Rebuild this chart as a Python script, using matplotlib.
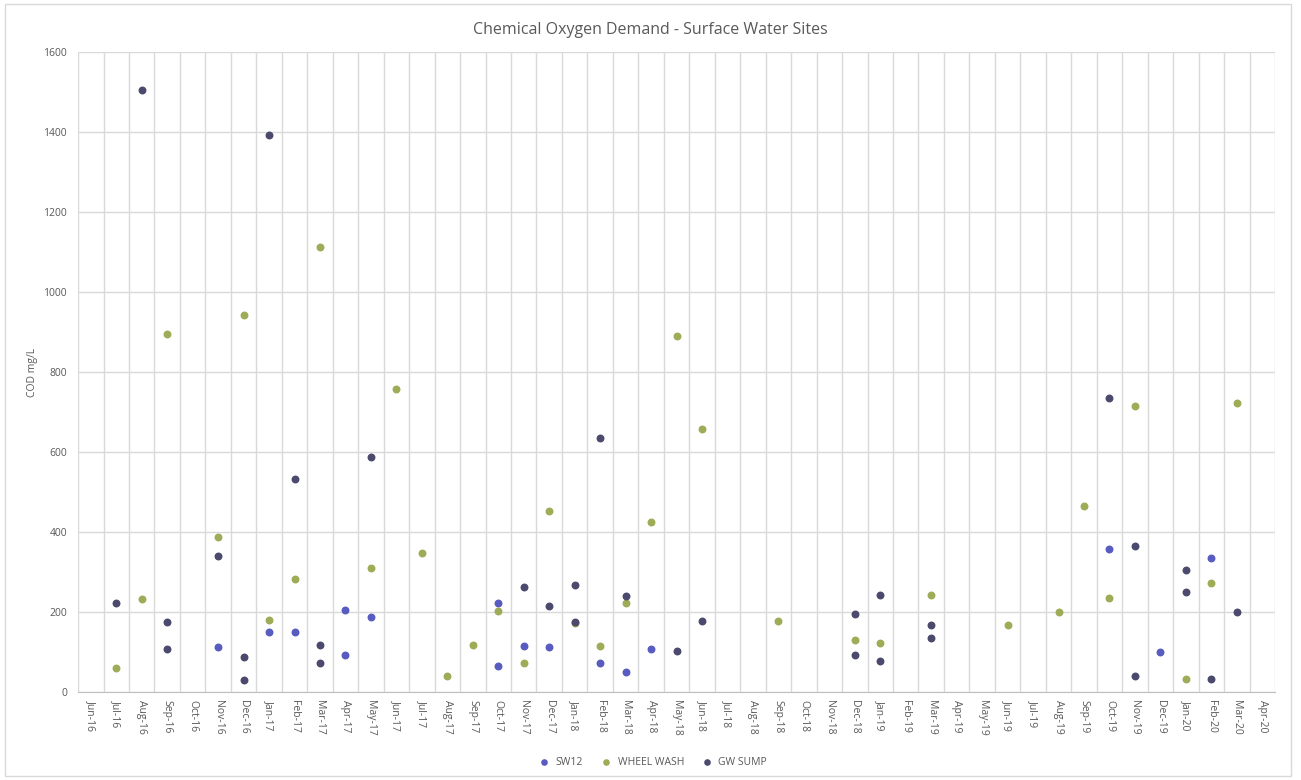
import matplotlib
matplotlib.use("Agg")
import matplotlib.pyplot as plt
from matplotlib.patches import Rectangle

plt.rcParams['font.family'] = ['Open Sans', 'DejaVu Sans']

months = ['Jun-16', 'Jul-16', 'Aug-16', 'Sep-16', 'Oct-16', 'Nov-16', 'Dec-16',
          'Jan-17', 'Feb-17', 'Mar-17', 'Apr-17', 'May-17', 'Jun-17', 'Jul-17',
          'Aug-17', 'Sep-17', 'Oct-17', 'Nov-17', 'Dec-17', 'Jan-18', 'Feb-18',
          'Mar-18', 'Apr-18', 'May-18', 'Jun-18', 'Jul-18', 'Aug-18', 'Sep-18',
          'Oct-18', 'Nov-18', 'Dec-18', 'Jan-19', 'Feb-19', 'Mar-19', 'Apr-19',
          'May-19', 'Jun-19', 'Jul-19', 'Aug-19', 'Sep-19', 'Oct-19', 'Nov-19',
          'Dec-19', 'Jan-20', 'Feb-20', 'Mar-20', 'Apr-20']

# samples: month of sample and COD value (mg/L)
sw12_months = ['Nov-16', 'Jan-17', 'Feb-17', 'Apr-17', 'Apr-17', 'May-17', 'Oct-17',
               'Oct-17', 'Nov-17', 'Dec-17', 'Feb-18', 'Mar-18', 'Apr-18', 'Oct-19',
               'Dec-19', 'Feb-20']
sw12_values = [113, 151, 151, 205, 92, 188, 223, 65, 114, 112, 72, 51, 107, 357, 101, 334]

ww_months = ['Jul-16', 'Aug-16', 'Sep-16', 'Nov-16', 'Dec-16', 'Jan-17', 'Feb-17',
             'Mar-17', 'May-17', 'Jun-17', 'Jul-17', 'Aug-17', 'Sep-17', 'Oct-17',
             'Nov-17', 'Dec-17', 'Jan-18', 'Feb-18', 'Mar-18', 'Apr-18', 'May-18',
             'Jun-18', 'Sep-18', 'Dec-18', 'Jan-19', 'Mar-19', 'Jun-19', 'Aug-19',
             'Sep-19', 'Oct-19', 'Nov-19', 'Jan-20', 'Feb-20', 'Mar-20']
ww_values = [60, 232, 894, 388, 942, 181, 282, 1113, 310, 758, 348, 41, 117, 202,
             72, 452, 172, 115, 222, 426, 891, 658, 178, 130, 122, 242, 167, 199,
             465, 236, 716, 32, 273, 722]

gw_months = ['Jul-16', 'Aug-16', 'Sep-16', 'Sep-16', 'Nov-16', 'Dec-16', 'Dec-16',
             'Jan-17', 'Feb-17', 'Mar-17', 'Mar-17', 'May-17', 'Nov-17', 'Dec-17',
             'Jan-18', 'Jan-18', 'Feb-18', 'Mar-18', 'May-18', 'Jun-18', 'Dec-18',
             'Dec-18', 'Jan-19', 'Jan-19', 'Mar-19', 'Mar-19', 'Oct-19', 'Nov-19',
             'Nov-19', 'Jan-20', 'Jan-20', 'Feb-20', 'Mar-20']
gw_values = [222, 1505, 175, 107, 341, 88, 31, 1392, 532, 117, 72, 587, 263, 216,
             267, 176, 634, 239, 103, 178, 195, 92, 242, 78, 167, 134, 734, 365,
             41, 304, 250, 32, 199]

fig = plt.figure(figsize=(13.01, 7.80), dpi=100)
ax = fig.add_axes([0.06, 0.1128, 0.92, 0.8205])

def xpos(ms):
    return [months.index(m) + 0.5 for m in ms]

ax.scatter(xpos(sw12_months), sw12_values, s=22, color='#585bbf', label='SW12', zorder=3)
ax.scatter(xpos(ww_months), ww_values, s=22, color='#9dac57', label='WHEEL WASH', zorder=3)
ax.scatter(xpos(gw_months), gw_values, s=22, color='#4b4a6e', label='GW SUMP', zorder=3)

ax.set_xlim(0, len(months))
ax.set_ylim(0, 1600)
ax.set_yticks(range(0, 1601, 200))
ax.set_xticks([i + 0.5 for i in range(len(months))])
ax.set_xticklabels(months, rotation=270, fontsize=7.5, color='#595959')
ax.set_xticks(range(len(months) + 1), minor=True)
ax.tick_params(axis='y', labelsize=7.5, labelcolor='#595959', length=0, pad=8)
ax.tick_params(axis='x', which='both', length=0, pad=6)
ax.grid(axis='y', color='#d9d9d9', linewidth=1)
ax.grid(axis='x', which='minor', color='#d9d9d9', linewidth=1)
ax.set_axisbelow(True)
for side in ['top', 'right', 'left']:
    ax.spines[side].set_visible(False)
ax.spines['bottom'].set_color('#bfbfbf')

ax.set_ylabel('COD mg/L', fontsize=7.5, color='#595959', labelpad=4)
fig.text(0.5, 0.962, 'Chemical Oxygen Demand - Surface Water Sites',
         ha='center', va='center', fontsize=11.5, color='#595959')

fig.legend(loc='center', bbox_to_anchor=(0.5, 0.023), ncol=3, frameon=False,
           fontsize=7.5, labelcolor='#595959', handletextpad=0.1, columnspacing=1.2,
           markerscale=0.8)

fig.patches.append(Rectangle((0.004, 0.005), 0.988, 0.99, transform=fig.transFigure,
                             fill=False, edgecolor='#d9d9d9', linewidth=1))

fig.savefig('out.png', dpi=100, facecolor='white')
